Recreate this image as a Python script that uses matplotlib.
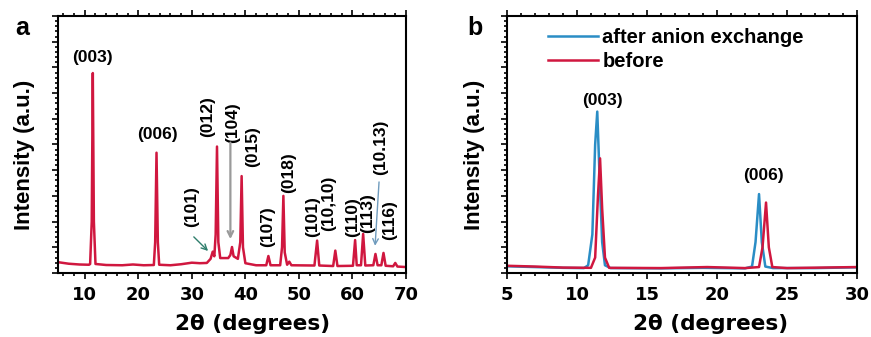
import matplotlib
matplotlib.use("Agg")
import matplotlib.pyplot as plt
from matplotlib.ticker import MultipleLocator, NullFormatter

plt.rcParams["font.family"] = ["Liberation Sans", "DejaVu Sans"]
plt.rcParams["font.weight"] = "bold"

RED = "#d0173f"
BLUE = "#2a8dc5"
WIDE = ["DejaVu Sans"]

# panel a: XRD pattern (2theta, intensity in a.u.)
two_theta_a = [5, 7, 9, 10.8, 11.0, 11.3, 11.5, 11.7, 12.0, 14, 17, 19, 21,
               22.9, 23.15, 23.4, 23.65, 23.9, 26, 28, 30, 31.5, 32.8,
               33.5, 33.9, 34.2, 34.45, 34.7, 34.95, 35.3, 36.8, 37.2, 37.5,
               37.8, 38.6, 39.05, 39.3, 39.55, 40.0, 42, 43.9, 44.3, 44.7,
               46.5, 46.85, 47.1, 47.35, 47.8, 48.2, 48.6, 52.9, 53.4, 53.8,
               56.4, 56.8, 57.2, 60.1, 60.5, 60.8, 61.6, 62.0, 62.4, 63.9,
               64.3, 64.7, 65.4, 65.8, 66.2, 67.6, 68.0, 68.4, 70]
intensity_a = [4.2, 3.6, 3.3, 3.2, 3.5, 20, 77.8, 20, 3.5, 3.1, 3.0, 3.3, 3.0,
               3.1, 12, 46.8, 12, 3.2, 3.0, 3.4, 4.0, 3.8, 3.9,
               5.5, 8.3, 6.5, 15, 49.2, 12, 5.8, 5.8, 7.0, 10.1,
               6.5, 5.5, 12, 37.7, 10, 3.8, 3.0, 3.0, 6.6, 3.0,
               3.0, 10, 30.0, 8, 3.2, 4.4, 3.0, 2.9, 12.6, 2.9,
               2.7, 8.7, 2.7, 2.8, 12.8, 3.0, 3.0, 15.2, 2.9, 3.0,
               7.4, 3.0, 3.0, 7.8, 2.8, 2.6, 3.9, 2.5, 2.3]

# peak labels: text, x, y, rotation
labels_a = ["(003)", "(006)", "(101)", "(012)", "(104)", "(015)", "(107)",
            "(018)", "(101)", "(10,10)", "(110)", "(113)", "(10.13)", "(116)"]
label_x_a = [11.5, 23.5, 30.0, 33.0, 37.7, 41.3, 44.1, 48.0, 52.5, 55.5,
             60.0, 62.8, 65.2, 67.0]
label_y_a = [84, 53.7, 25.7, 60.7, 58.4, 49.0, 17.9, 38.9, 21.8, 27.2,
             21.8, 23.3, 49.0, 20.6]
label_rot_a = [0, 0, 90, 90, 90, 90, 90, 90, 90, 90, 90, 90, 90, 90]

# panel b: before / after anion exchange
two_theta_after = [5, 7, 9, 10.5, 10.8, 11.1, 11.3, 11.45, 11.6, 11.8, 12.0,
                   12.4, 16, 19, 22, 22.5, 22.75, 23.0, 23.2, 23.45, 24, 27, 30]
intensity_after = [2.6, 2.3, 2.0, 1.9, 3, 15, 50, 62.8, 40, 12, 3,
                   1.9, 1.8, 2.0, 1.8, 2.5, 12, 30.7, 12, 2.5, 1.9, 1.9, 2.2]
two_theta_before = [5, 7, 9, 11.0, 11.3, 11.5, 11.65, 11.8, 12.0, 12.3, 16,
                    19.3, 22, 23.0, 23.25, 23.5, 23.7, 23.95, 25, 30]
intensity_before = [2.8, 2.5, 2.1, 2.0, 6, 30, 44.6, 25, 6, 2.0, 1.9,
                    2.3, 1.9, 2.3, 10, 27.4, 10, 2.3, 1.9, 2.3]
labels_b = ["(003)", "(006)"]
label_x_b = [11.8, 23.3]
label_y_b = [67.3, 38.1]


def style_axis(ax, xmin, xmax, major, minor, ylabel_x, xlabel_x):
    ax.set_xlim(xmin, xmax)
    ax.set_ylim(0, 100)
    ax.xaxis.set_major_locator(MultipleLocator(major))
    ax.xaxis.set_minor_locator(MultipleLocator(minor))
    ax.yaxis.set_major_locator(MultipleLocator(10))
    ax.yaxis.set_minor_locator(MultipleLocator(2))
    ax.yaxis.set_major_formatter(NullFormatter())
    ax.tick_params(which="both", direction="out", top=True, right=False,
                   labelsize=13, labelfontfamily="DejaVu Sans", width=1.2, pad=5)
    ax.tick_params(which="major", length=4.5)
    ax.tick_params(which="minor", length=2.5)
    for spine in ax.spines.values():
        spine.set_linewidth(1.5)
    ax.set_xlabel("2\u03b8 (degrees)", fontsize=15.5, fontweight="bold", family=WIDE)
    ax.set_ylabel("Intensity (a.u.)", fontsize=16, fontweight="bold")
    ax.xaxis.set_label_coords(xlabel_x, -0.16)
    ax.yaxis.set_label_coords(ylabel_x, 0.46)


fig = plt.figure(figsize=(8.71, 3.37), dpi=100)
ax_a = fig.add_axes([0.0666, 0.19, 0.3995, 0.7625])
ax_b = fig.add_axes([0.582, 0.19, 0.402, 0.7625])

ax_a.plot(two_theta_a, intensity_a, color=RED, lw=1.8)
style_axis(ax_a, 5, 70, 10, 2, -0.066, 0.56)
for text, x, y, rot in zip(labels_a, label_x_a, label_y_a, label_rot_a):
    ax_a.text(x, y, text, rotation=rot, ha="center", va="center",
              fontsize=12.5, fontweight="bold")
ax_a.annotate("", xy=(33.4, 7.8), xytext=(30.0, 14.8),
              arrowprops=dict(arrowstyle="->", color="#2e7d6b", lw=1.0))
ax_a.annotate("", xy=(37.2, 12.1), xytext=(37.2, 51.8),
              arrowprops=dict(arrowstyle="->", color="#9a9a9a", lw=1.6))
ax_a.annotate("", xy=(64.2, 9.5), xytext=(65.0, 36.5),
              arrowprops=dict(arrowstyle="->", color="#6f9bbd", lw=1.0))

ax_b.plot(two_theta_after, intensity_after, color=BLUE, lw=1.8,
          label="after anion exchange")
ax_b.plot(two_theta_before, intensity_before, color=RED, lw=1.8, label="before")
style_axis(ax_b, 5, 30, 5, 1, -0.063, 0.583)
for text, x, y in zip(labels_b, label_x_b, label_y_b):
    ax_b.text(x, y, text, ha="center", va="center", fontsize=12.5, fontweight="bold")
ax_b.legend(loc="upper left", bbox_to_anchor=(0.117, 0.955), frameon=False,
            borderaxespad=0, borderpad=0, handlelength=2.5, handletextpad=0.2,
            labelspacing=0.25, prop={"weight": "bold", "size": 14.5})

fig.text(0.017, 0.896, "a", fontsize=18, fontweight="bold")
fig.text(0.537, 0.896, "b", fontsize=18, fontweight="bold")

fig.savefig("out.png", dpi=100)
